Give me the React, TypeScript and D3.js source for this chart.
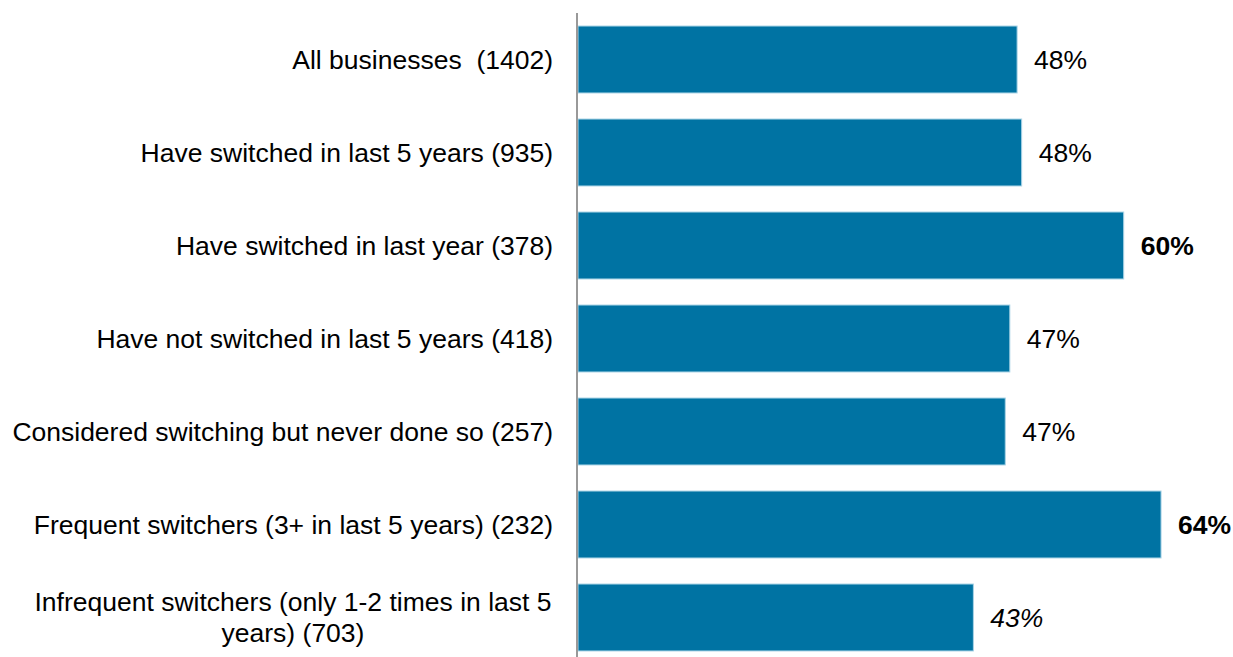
import React from "react";
import * as d3 from "d3";

const categories: string[][] = [
  ["All businesses  (1402)"],
  ["Have switched in last 5 years (935)"],
  ["Have switched in last year (378)"],
  ["Have not switched in last 5 years (418)"],
  ["Considered switching but never done so (257)"],
  ["Frequent switchers (3+ in last 5 years) (232)"],
  ["Infrequent switchers (only 1-2 times in last 5", "years) (703)"],
];
const values: number[] = [48.2, 48.7, 59.9, 47.4, 46.9, 64.0, 43.4];
const valueLabels: string[] = ["48%", "48%", "60%", "47%", "47%", "64%", "43%"];
const labelStyles: string[] = ["normal", "normal", "bold", "normal", "normal", "bold", "italic"];

const W = 1233;
const H = 657;
const FONT = "'Liberation Sans', Arial, sans-serif";

export default function App() {
  const keys = categories.map((_, i) => String(i));
  const x = d3.scaleLinear().domain([0, 100]).range([578, 578 + 911]);
  const y = d3.scaleBand<string>().domain(keys).range([13, 664]).paddingInner(0.28).paddingOuter(0.14);
  const bw = y.bandwidth();
  const fs = 26.5;
  return (
    <svg width={W} height={H} style={{ position: "absolute", left: 0, top: 0, background: "#fff" }} fontFamily={FONT}>
      {keys.map((k, i) => {
        const yc = (y(k) as number) + bw / 2;
        const lines = categories[i];
        const x1 = x(values[i]);
        return (
          <g key={k}>
            <rect x={x(0)} y={y(k)} width={x1 - x(0)} height={bw} fill="#0073A3" stroke="#a9d3e6" strokeWidth={1} />
            {lines.length === 1 ? (
              <text x={553} y={yc} textAnchor="end" dominantBaseline="central" fontSize={fs} fill="#000" style={{ whiteSpace: "pre" }}>
                {lines[0]}
              </text>
            ) : (
              <text x={293} textAnchor="middle" fontSize={fs} fill="#000">
                {lines.map((l, j) => (
                  <tspan key={j} x={293} y={yc + (j - (lines.length - 1) / 2) * 31} dominantBaseline="central">
                    {l}
                  </tspan>
                ))}
              </text>
            )}
            <text
              x={x1 + 17}
              y={yc}
              dominantBaseline="central"
              fontSize={fs}
              fontWeight={labelStyles[i] === "bold" ? "bold" : "normal"}
              fontStyle={labelStyles[i] === "italic" ? "italic" : "normal"}
              fill="#000"
            >
              {valueLabels[i]}
            </text>
          </g>
        );
      })}
      <line x1={577} x2={577} y1={13} y2={H} stroke="#999" strokeWidth={2} />
    </svg>
  );
}
